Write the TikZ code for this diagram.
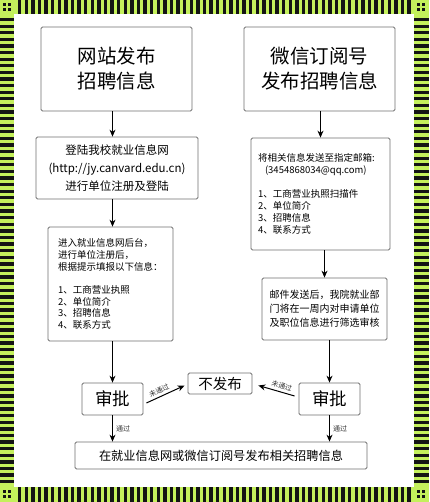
\documentclass[tikz,border=0pt]{standalone}
\usepackage{fontspec}
\setmainfont{Noto Sans CJK SC}
\usepackage{tikz}
\usetikzlibrary{arrows.meta, calc}
\definecolor{frmgreen}{HTML}{C4F05C}
\definecolor{frmblack}{HTML}{141414}
\definecolor{boxgray}{HTML}{707070}

\begin{document}
\begin{tikzpicture}[x=1pt, y=-1pt,
    flowbox/.style={draw=boxgray, line width=0.8pt, rounded corners=1.5pt,
                    fill=white, inner sep=0pt, align=center},
    flowarr/.style={-{Stealth[length=7pt, width=6pt]}, line width=1pt, black},
    passlbl/.style={font=\fontsize{7}{8}\selectfont, text=black!80, inner sep=1pt}]
      \useasboundingbox (0,0) rectangle (429,502);
      % striped frame
      \fill[frmgreen] (0,0) rectangle (429,502);
      \fill[white] (14,14) rectangle (414,487);
      \foreach \x in {18,24.6,...,408} {
        \fill[frmblack] (\x,0) rectangle ++(3.3,14);
        \fill[frmblack] (\x,487) rectangle ++(3.3,15);
      }
      \foreach \y in {18,24.6,...,482} {
        \fill[frmblack] (0,\y) rectangle ++(14,3.3);
        \fill[frmblack] (414,\y) rectangle ++(15,3.3);
      }
      \foreach \cx/\cy in {0/0, 414/0, 0/487, 414/487} {
        \foreach \dx/\dy in {3/3, 8/3, 3/8, 8/8}
          \fill[frmblack] (\cx+\dx,\cy+\dy) rectangle ++(3,3);
      }
      % left column
      \node[flowbox, minimum width=151pt, minimum height=84pt,
            font=\fontsize{19.5}{25}\selectfont] (web) at (116.5,69)
        {网站发布\\招聘信息};
      \node[flowbox, minimum width=162pt, minimum height=62pt,
            font=\fontsize{11.5}{18}\selectfont] (login) at (117,168)
        {登陆我校就业信息网\\(http://jy.canvard.edu.cn)\\进行单位注册及登陆};
      \node[flowbox, minimum width=125pt, minimum height=114pt, text width=105pt,
            align=left, font=\fontsize{9.5}{11.7}\selectfont] (fill) at (110.5,284)
        {进入就业信息网后台，\\进行单位注册后，\\根据提示填报以下信息：\\[11.7pt]
         1、工商营业执照\\2、单位简介\\3、招聘信息\\4、联系方式};
      \node[flowbox, minimum width=61pt, minimum height=32pt,
            font=\fontsize{17.5}{20}\selectfont] (sp1) at (112.5,399) {审批};
      % right column
      \node[flowbox, minimum width=151pt, minimum height=84pt,
            font=\fontsize{19.5}{25}\selectfont] (wx) at (319.5,69)
        {微信订阅号\\发布招聘信息};
      \node[flowbox, minimum width=139pt, minimum height=112pt, text width=125pt,
            align=left, font=\fontsize{9.5}{12}\selectfont] (mail) at (320.5,194)
        {将相关信息发送至指定邮箱:\\\hspace*{7pt}(3454868034@qq.com)\\[12pt]
         1、工商营业执照扫描件\\2、单位简介\\3、招聘信息\\4、联系方式};
      \node[flowbox, minimum width=125pt, minimum height=62pt,
            font=\fontsize{10}{14}\selectfont] (review) at (324.5,309)
        {邮件发送后，我院就业部\\门将在一周内对申请单位\\及职位信息进行筛选审核};
      \node[flowbox, minimum width=61pt, minimum height=32pt,
            font=\fontsize{17.5}{20}\selectfont] (sp2) at (329.5,399) {审批};
      % middle and bottom
      \node[flowbox, minimum width=64pt, minimum height=21pt,
            font=\fontsize{14.5}{16}\selectfont] (nopub) at (220,383.5) {不发布};
      \node[flowbox, minimum width=292pt, minimum height=27pt,
            font=\fontsize{12.2}{14}\selectfont] (final) at (221,455.5)
        {在就业信息网或微信订阅号发布相关招聘信息};
      % connectors
      \draw[flowarr] (web.south -| sp1) -- (login.north -| sp1);
      \draw[flowarr] (login.south -| sp1) -- (fill.north -| sp1);
      \draw[flowarr] (fill.south -| sp1) -- (sp1.north);
      \draw[flowarr] (wx.south -| mail) -- (mail.north);
      \draw[flowarr] (mail.south -| review) -- (review.north);
      \draw[flowarr] (review.south -| sp2) -- (sp2.north);
      \draw[flowarr] (sp1.south) -- node[passlbl, right, xshift=2pt] {通过}
        (sp1.south |- final.north);
      \draw[flowarr] (sp2.south) -- node[passlbl, right, xshift=2pt] {通过}
        (sp2.south |- final.north);
      \draw[flowarr] ([xshift=3pt, yshift=-4pt]sp1.east)
        -- node[passlbl, above=1.5pt, sloped, pos=0.4] {未通过}
        ([xshift=-3pt, yshift=-2pt]nopub.west);
      \draw[flowarr] ([xshift=-4pt, yshift=3pt]sp2.west)
        -- node[passlbl, above=1.5pt, sloped, pos=0.4] {未通过}
        ([xshift=6pt, yshift=-2pt]nopub.east);
    \end{tikzpicture}
\end{document}
